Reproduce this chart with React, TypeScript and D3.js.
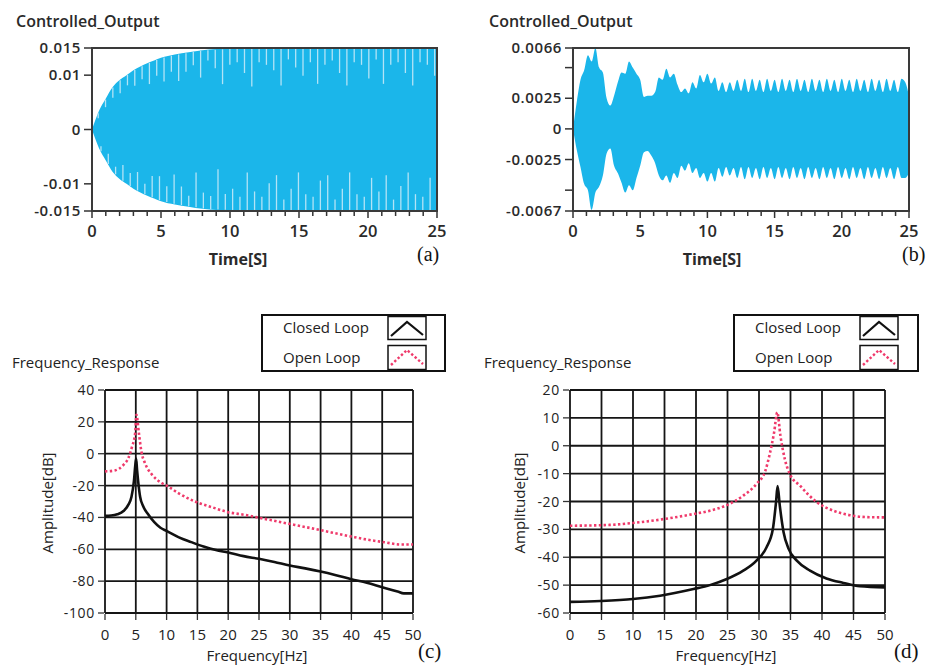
import * as d3 from 'd3';

const FONT = "'Open Sans', 'DejaVu Sans', sans-serif";
const SERIF = "'Liberation Serif', 'Times New Roman', serif";
const BLUE = '#1bb6ea';
const STRIPE = '#b3e3f6';
const PINK = '#ef3a6b';

// (a) amplitude envelope of the controlled output
const A_ENV_T = [0, 0.25, 0.5, 1, 1.5, 2, 2.5, 3, 3.5, 4, 4.5, 5, 6, 7, 8, 9, 10, 25];
const A_ENV = [0, 0.0018, 0.0034, 0.0057, 0.0078, 0.0091, 0.0100, 0.0109, 0.0116, 0.0122, 0.0127, 0.0132, 0.0138, 0.0142, 0.0146, 0.0148, 0.0149, 0.0149];
// (a) light aliasing stripes: start time, spacing and how deep each one cuts in
const A_STRIPE_T0 = 0.45;
const A_STRIPE_STEP = 0.53;
const A_TOP_DIP = [0.001, 0.0015, 0.002, 0.0025, 0.002, 0.003, 0.0025, 0.004, 0.003, 0.0045, 0.003, 0.005, 0.0035, 0.0025, 0.005, 0.002, 0.0035, 0.0065, 0.003, 0.0025, 0.0045, 0.007, 0.0025, 0.003, 0.004, 0.0068, 0.002, 0.0035, 0.005, 0.0025, 0.0065, 0.003, 0.0022, 0.0045, 0.0068, 0.0025, 0.003, 0.0055, 0.002, 0.0065, 0.003, 0.0025, 0.0045, 0.0068, 0.0025, 0.003, 0.005];
const A_BOT_DIP = [0.001, 0.002, 0.0015, 0.003, 0.0025, 0.0035, 0.002, 0.004, 0.0045, 0.003, 0.0055, 0.0035, 0.002, 0.0065, 0.003, 0.0025, 0.0075, 0.003, 0.004, 0.0025, 0.007, 0.0035, 0.0025, 0.005, 0.0065, 0.002, 0.004, 0.007, 0.003, 0.0025, 0.0055, 0.0065, 0.002, 0.004, 0.007, 0.003, 0.0025, 0.006, 0.0035, 0.0065, 0.002, 0.0045, 0.007, 0.003, 0.0025, 0.006, 0.004];

// (b) upper / lower envelope, sampled every 25/90 s
const B_STEP = 25 / 90;
const B_UP = [
  0, 0.0022, 0.0040, 0.0048, 0.0060, 0.0055, 0.0066, 0.0050, 0.0046, 0.0025,
  0.0019, 0.0027, 0.0038, 0.0046, 0.0045, 0.0055, 0.0050, 0.0045, 0.0040, 0.0026,
  0.0027, 0.0027, 0.0030, 0.0042, 0.0040, 0.0049, 0.0042, 0.0045, 0.0036, 0.0030,
  0.0033, 0.0029, 0.0038, 0.0033, 0.0044, 0.0038, 0.0045, 0.0037, 0.0042, 0.0031,
  0.0038, 0.0030, 0.0038, 0.0031, 0.0040, 0.0031, 0.0041, 0.0030, 0.0041, 0.0031,
  0.0040, 0.0030, 0.0041, 0.0031, 0.0040, 0.0030, 0.0041, 0.0031, 0.0040, 0.0030,
  0.0041, 0.0031, 0.0040, 0.0030, 0.0041, 0.0031, 0.0040, 0.0030, 0.0041, 0.0031,
  0.0040, 0.0030, 0.0041, 0.0031, 0.0040, 0.0030, 0.0041, 0.0031, 0.0040, 0.0030,
  0.0041, 0.0031, 0.0040, 0.0030, 0.0041, 0.0031, 0.0040, 0.0030, 0.0041, 0.0038,
  0.0027,
];
const B_LO = [
  0, -0.0017, -0.0031, -0.0045, -0.0050, -0.0066, -0.0052, -0.0047, -0.0038, -0.0020,
  -0.0016, -0.0030, -0.0036, -0.0044, -0.0052, -0.0046, -0.0050, -0.0040, -0.0030, -0.0019,
  -0.0018, -0.0022, -0.0028, -0.0038, -0.0042, -0.0038, -0.0044, -0.0036, -0.0040, -0.0030,
  -0.0034, -0.0028, -0.0036, -0.0032, -0.0040, -0.0036, -0.0043, -0.0036, -0.0043, -0.0032,
  -0.0039, -0.0031, -0.0038, -0.0032, -0.0040, -0.0031, -0.0041, -0.0031, -0.0040, -0.0032,
  -0.0041, -0.0031, -0.0040, -0.0032, -0.0041, -0.0031, -0.0040, -0.0032, -0.0041, -0.0031,
  -0.0040, -0.0032, -0.0041, -0.0031, -0.0040, -0.0032, -0.0041, -0.0031, -0.0040, -0.0032,
  -0.0041, -0.0031, -0.0040, -0.0032, -0.0041, -0.0031, -0.0040, -0.0032, -0.0041, -0.0031,
  -0.0040, -0.0032, -0.0041, -0.0031, -0.0040, -0.0032, -0.0041, -0.0031, -0.0040, -0.0040,
  -0.0036,
];

const TIME_TICKS = [0, 5, 10, 15, 20, 25];
const TIME_MINOR = d3.range(0, 26, 1);
const A_YTICKS = [0.015, 0.01, 0, -0.01, -0.015];
const A_YLABELS = ['0.015', '0.01', '0', '-0.01', '-0.015'];
const B_YTICKS = [0.0066, 0.005, 0.0025, 0, -0.0025, -0.005, -0.0067];
const B_YLABELS = ['0.0066', '', '0.0025', '0', '-0.0025', '', '-0.0067'];

// (c) frequency response, resonance near 5 Hz
const C_CL_F = [0, 1, 2, 3, 3.8, 4.3, 4.7, 4.9, 5.05, 5.2, 5.4, 5.7, 6.2, 7, 8, 9, 10, 12, 14, 16, 18, 20, 22.5, 25, 27.5, 30, 32.5, 35, 37.5, 40, 42.5, 45, 47.5, 48.5, 50];
const C_CL_DB = [-39, -38.8, -38, -36, -32, -27, -17, -8, -3, -10, -18, -27, -33, -38, -43, -46.5, -48.5, -52.5, -55.5, -58.3, -60.5, -62, -64.3, -66, -68, -70.2, -72, -74, -76.3, -78.8, -81, -83.8, -86.5, -87.7, -87.7];
const C_OL_F = [0, 1.6, 3, 3.8, 4.4, 4.9, 5.1, 5.5, 5.9, 6.5, 7.6, 9.2, 10.2, 11.9, 14.6, 17.3, 20, 22.7, 25.4, 28.1, 30.8, 33.5, 36.2, 40, 42.7, 45.4, 48.1, 50];
const C_OL_DB = [-11.1, -10.5, -7, -2.7, 4.6, 13, 24.5, 13, 1.5, -6, -13, -18.4, -20.5, -24.7, -30, -33.5, -36.7, -38.4, -40.5, -42.6, -44.7, -46.8, -49, -52, -54, -55.6, -57, -57];

// (d) frequency response, resonance near 33 Hz
const D_CL_F = [0, 4.8, 10, 14.3, 19.6, 22.2, 24.9, 27.5, 29.6, 31.2, 32.2, 32.7, 32.95, 33.3, 33.9, 34.7, 36, 38.1, 40.7, 43.4, 46, 50];
const D_CL_DB = [-56, -55.7, -55, -53.8, -51.4, -50, -47.8, -44.8, -41.2, -36.4, -29.9, -20.3, -14.5, -21.5, -31, -37, -41.2, -44.8, -47.6, -49.2, -50.4, -50.8];
const D_OL_F = [0, 6.3, 10, 14.3, 19.6, 22.2, 24.9, 27.5, 29.6, 31, 31.7, 32.4, 32.9, 33.4, 34.1, 34.9, 36.5, 39.2, 41.8, 44.4, 47.1, 50];
const D_OL_DB = [-28.7, -28.4, -27.7, -26.5, -24.5, -23.3, -21.3, -17.9, -13.7, -9, -3, 4.8, 12, 3.6, -4.8, -10.2, -14.3, -20.3, -23.3, -24.9, -25.6, -25.7];

const FREQ_TICKS = d3.range(0, 51, 5);
const C_DB_TICKS = [40, 20, 0, -20, -40, -60, -80, -100];
const D_DB_TICKS = [20, 10, 0, -10, -20, -30, -40, -50, -60];

type Pt = { t: number; hi: number; lo: number };

type TimeProps = {
  left: number; right: number; top: number; bottom: number;
  yDomain: [number, number];
  yTicks: number[]; yLabels: string[];
  data: Pt[];
  env?: (t: number) => number;
  titleX: number; xLabelX: number; tagX: number; tag: string;
};

const TimePanel = (p: TimeProps) => {
  const x = d3.scaleLinear().domain([0, 25]).range([p.left, p.right]);
  const y = d3.scaleLinear().domain(p.yDomain).range([p.bottom, p.top]);
  const area = d3.area<Pt>()
    .x((d) => x(d.t)).y0((d) => y(d.lo)).y1((d) => y(d.hi))
    .curve(d3.curveMonotoneX);
  const env = p.env;
  return (
    <g>
      <text x={p.titleX} y={26.5} fontFamily={FONT} fontSize={16} fontWeight={600} fill="#2a2a2a">Controlled_Output</text>
      <rect x={p.left} y={p.top} width={p.right - p.left} height={p.bottom - p.top} fill="#fff" />
      <path d={area(p.data) ?? ''} fill={BLUE} />
      {env && (
        <g stroke={STRIPE} strokeWidth={1.3}>
          {A_TOP_DIP.map((dip, i) => {
            const t = A_STRIPE_T0 + i * A_STRIPE_STEP;
            const e = env(t);
            return <line key={'t' + i} x1={x(t)} x2={x(t)} y1={y(e) + 0.5} y2={y(Math.max(e - dip, 0.0005))} />;
          })}
          {A_BOT_DIP.map((dip, i) => {
            const t = A_STRIPE_T0 + 0.2 + i * A_STRIPE_STEP;
            const e = env(t);
            return <line key={'b' + i} x1={x(t)} x2={x(t)} y1={y(-e) - 0.5} y2={y(-Math.max(e - dip, 0.0005))} />;
          })}
        </g>
      )}
      <rect x={p.left} y={p.top} width={p.right - p.left} height={p.bottom - p.top} fill="none" stroke="#3a3a3a" strokeWidth={2} />
      {p.yTicks.map((v, i) => (
        <g key={i}>
          <line x1={p.left - 8} x2={p.left - 1} y1={y(v)} y2={y(v)} stroke="#333" strokeWidth={1.5} />
          <text x={p.left - 11} y={y(v)} dy="0.35em" textAnchor="end" fontFamily={FONT} fontSize={15} fontWeight={600} letterSpacing={0.6} fill="#2a2a2a">{p.yLabels[i]}</text>
        </g>
      ))}
      {TIME_MINOR.map((v) => (
        <line key={v} x1={x(v)} x2={x(v)} y1={p.bottom + 1} y2={p.bottom + (v % 5 === 0 ? 7 : 5)} stroke="#333" strokeWidth={1.5} />
      ))}
      {TIME_TICKS.map((v) => (
        <text key={v} x={x(v)} y={p.bottom + 26} textAnchor="middle" fontFamily={FONT} fontSize={16.5} fontWeight={600} fill="#2a2a2a">{v}</text>
      ))}
      <text x={p.xLabelX} y={265} textAnchor="middle" fontFamily={FONT} fontSize={16} fontWeight={700} fill="#2a2a2a">Time[S]</text>
      <text x={p.tagX} y={261} fontFamily={SERIF} fontSize={20} fill="#111">{p.tag}</text>
    </g>
  );
};

type FreqProps = {
  left: number; right: number; top: number; bottom: number;
  dbDomain: [number, number]; dbTicks: number[];
  clF: number[]; clDb: number[]; olF: number[]; olDb: number[];
  titleX: number; legendX: number; legendW: number; swatchX: number;
  yLabelX: number; xLabelX: number; tagX: number; tag: string;
};

const FreqPanel = (p: FreqProps) => {
  const x = d3.scaleLinear().domain([0, 50]).range([p.left, p.right]);
  const y = d3.scaleLinear().domain(p.dbDomain).range([p.bottom, p.top]);
  const line = d3.line<[number, number]>().x((d) => x(d[0])).y((d) => y(d[1])).curve(d3.curveMonotoneX);
  const cl = p.clF.map((f, i) => [f, p.clDb[i]] as [number, number]);
  const ol = p.olF.map((f, i) => [f, p.olDb[i]] as [number, number]);
  const sx = p.swatchX;
  return (
    <g>
      {/* legend */}
      <rect x={p.legendX} y={315} width={p.legendW} height={56} fill="#fff" stroke="#111" strokeWidth={2} />
      <rect x={sx} y={316.5} width={38} height={23} fill="#fff" stroke="#111" strokeWidth={1.5} />
      <rect x={sx} y={345.5} width={38} height={24} fill="#fff" stroke="#111" strokeWidth={1.5} />
      <polyline points={`${sx + 3},336 ${sx + 19},322 ${sx + 35},335`} fill="none" stroke="#111" strokeWidth={2.2} />
      <polyline points={`${sx + 3},365 ${sx + 19},350 ${sx + 35},364`} fill="none" stroke={PINK} strokeWidth={2.4} strokeDasharray="2.4 2.2" />
      <text x={p.legendX + 21} y={333} fontFamily={FONT} fontSize={15} fill="#222">Closed Loop</text>
      <text x={p.legendX + 21} y={363} fontFamily={FONT} fontSize={15} fill="#222">Open Loop</text>

      <text x={p.titleX} y={368} fontFamily={FONT} fontSize={15} fill="#222">Frequency_Response</text>

      <rect x={p.left} y={p.top} width={p.right - p.left} height={p.bottom - p.top} fill="#fff" />
      {FREQ_TICKS.map((f) => (
        <line key={'v' + f} x1={x(f)} x2={x(f)} y1={p.top} y2={p.bottom} stroke="#151515" strokeWidth={1.8} />
      ))}
      {p.dbTicks.map((v) => (
        <line key={'h' + v} x1={p.left} x2={p.right} y1={y(v)} y2={y(v)} stroke="#151515" strokeWidth={1.8} />
      ))}
      <path d={line(cl) ?? ''} fill="none" stroke="#111" strokeWidth={2.6} strokeLinejoin="round" />
      <path d={line(ol) ?? ''} fill="none" stroke={PINK} strokeWidth={2.6} strokeDasharray="2.4 2.4" />

      {p.dbTicks.map((v) => (
        <g key={'yt' + v}>
          <line x1={p.left - 7} x2={p.left - 1} y1={y(v)} y2={y(v)} stroke="#333" strokeWidth={1.3} />
          <text x={p.left - 10} y={y(v)} dy="0.36em" textAnchor="end" fontFamily={FONT} fontSize={14} letterSpacing={0.7} fill="#222">{v}</text>
        </g>
      ))}
      {FREQ_TICKS.map((f) => (
        <g key={'xt' + f}>
          <line x1={x(f)} x2={x(f)} y1={p.bottom + 1} y2={p.bottom + 7} stroke="#333" strokeWidth={1.3} />
          <text x={x(f)} y={640} textAnchor="middle" fontFamily={FONT} fontSize={15} fill="#222">{f}</text>
        </g>
      ))}
      <text x={p.xLabelX} y={661} textAnchor="middle" fontFamily={FONT} fontSize={15} fill="#222">Frequency[Hz]</text>
      <text transform={`translate(${p.yLabelX},503) rotate(-90)`} textAnchor="middle" dy="0.35em" fontFamily={FONT} fontSize={15} fill="#222">Amplitude[dB]</text>
      <text x={p.tagX} y={658} fontFamily={SERIF} fontSize={21} fill="#111">{p.tag}</text>
    </g>
  );
};

export default function App() {
  const aData: Pt[] = A_ENV_T.map((t, i) => ({ t, hi: A_ENV[i], lo: -A_ENV[i] }));
  const bData: Pt[] = B_UP.map((v, i) => ({ t: i * B_STEP, hi: v, lo: B_LO[i] }));
  const envA = d3.scaleLinear().domain(A_ENV_T).range(A_ENV);

  return (
    <svg width={934} height={669} style={{ position: 'absolute', left: 0, top: 0, background: '#fff' }}>
      <rect width={934} height={669} fill="#fff" />
      <TimePanel left={92} right={437} top={48} bottom={211} yDomain={[-0.015, 0.015]}
        yTicks={A_YTICKS} yLabels={A_YLABELS} data={aData} env={(t) => envA(t)}
        titleX={16} xLabelX={238} tagX={417} tag="(a)" />
      <TimePanel left={573} right={909} top={48} bottom={211} yDomain={[-0.0067, 0.0066]}
        yTicks={B_YTICKS} yLabels={B_YLABELS} data={bData}
        titleX={489} xLabelX={712} tagX={902} tag="(b)" />
      <FreqPanel left={105} right={413} top={390} bottom={613} dbDomain={[-100, 40]} dbTicks={C_DB_TICKS}
        clF={C_CL_F} clDb={C_CL_DB} olF={C_OL_F} olDb={C_OL_DB}
        titleX={12} legendX={262} legendW={183} swatchX={388}
        yLabelX={48} xLabelX={257} tagX={418} tag="(c)" />
      <FreqPanel left={570} right={885} top={390} bottom={613} dbDomain={[-60, 20]} dbTicks={D_DB_TICKS}
        clF={D_CL_F} clDb={D_CL_DB} olF={D_OL_F} olDb={D_OL_DB}
        titleX={484} legendX={734} legendW={184} swatchX={860}
        yLabelX={520} xLabelX={726} tagX={894} tag="(d)" />
    </svg>
  );
}
